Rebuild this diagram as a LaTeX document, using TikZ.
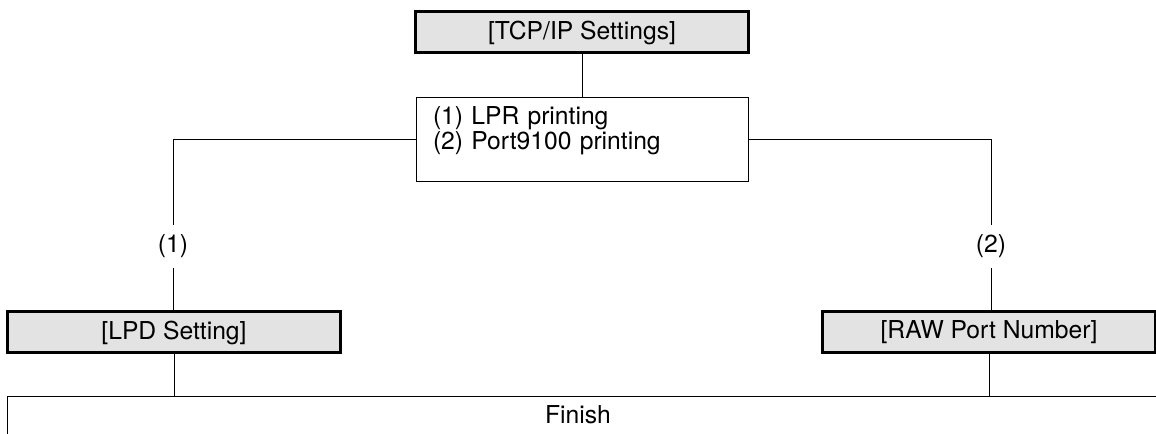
\documentclass[tikz,border=0pt]{standalone}
\usepackage{fontspec}
\setmainfont{TeX Gyre Heros}
\usetikzlibrary{positioning,fit,calc}
\definecolor{menugray}{HTML}{E3E3E3}

\begin{document}
\begin{tikzpicture}[
    x=0.75pt, y=-0.75pt,
    font=\fontsize{18.5}{18.5}\selectfont,
    setbox/.style={draw, line width=2.25pt, fill=menugray, inner sep=0pt, minimum width=249.75pt, minimum height=30.75pt},
    listbox/.style={draw, line width=0.75pt, align=left, inner xsep=12.75pt, inner ysep=0pt, text width=223.5pt, text height=20pt, text depth=43pt},
    openbox/.style={draw, line width=0.75pt, inner sep=0pt},
    branch/.style={inner sep=0pt, minimum height=32.25pt},
    link/.style={line width=0.75pt}
]
  \useasboundingbox (0,0) rectangle (1156,434);
  \clip (0,0) rectangle (1156,434);

  \node[setbox] (tcp) at (582,32.5) {[TCP/IP Settings]};
  \node[listbox, anchor=north west] (menu) at (415.5,97.5) {(1) LPR printing\\(2) Port9100 printing};
  \node[branch] (lbl1) at (173,246.5) {(1)};
  \node[branch] (lbl2) at (991,246.5) {(2)};
  \node[setbox] (lpd) at (174,332.5) {[LPD Setting]};
  \node[setbox] (raw) at (989,332.5) {[RAW Port Number]};
  \node[openbox, fit={(7.5,396.5) (1200,480)}] (finish) {};
  \node (finishtext) at (578,415) {Finish};

  \draw[link] (tcp.south) -- (tcp.south |- menu.north);
  \draw[link] (menu.west) -| (lbl1.north);
  \draw[link] (menu.east) -| (lbl2.north);
  \draw[link] (lbl1.south) -- (lbl1.south |- lpd.north);
  \draw[link] (lbl2.south) -- (lbl2.south |- raw.north);
  \draw[link] (lpd.south) -- (lpd.south |- finish.north);
  \draw[link] (raw.south) -- (raw.south |- finish.north);
\end{tikzpicture}
\end{document}
